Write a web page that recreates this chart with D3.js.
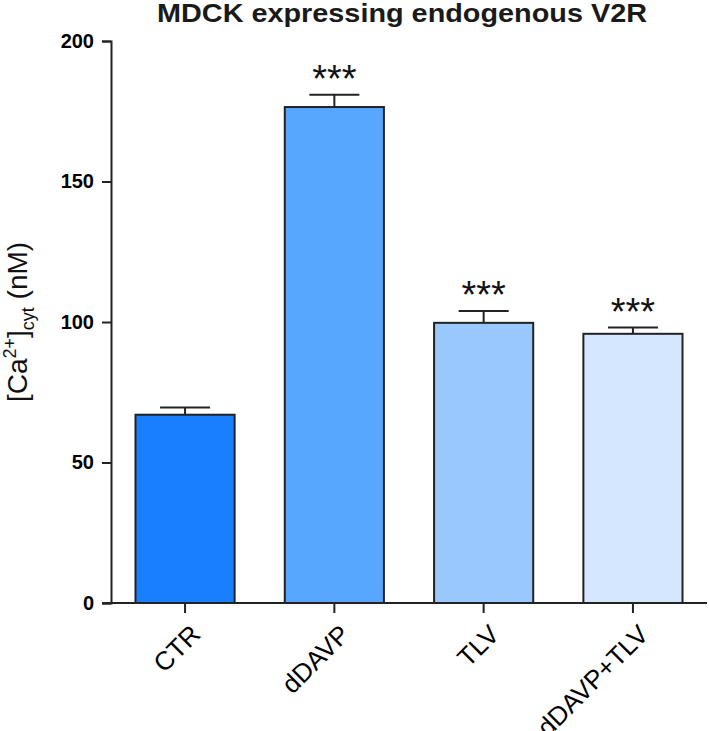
<!DOCTYPE html>
<html lang="en">
<head>
	<meta charset="utf-8">
	<title>MDCK expressing endogenous V2R</title>
	<script src="https://d3js.org/d3.v7.min.js"></script>
	<style>
		body { margin: 0; background: #fff; }
		text { font-family: "Liberation Sans", Arial, Helvetica, sans-serif; }
		.yax .tick text { font-weight: bold; font-size: 20px; fill: #000; }
		.xax .tick text { font-weight: normal; font-size: 26px; fill: #000; }
	</style>
</head>
<body>
	<div id="main"></div>
	<script>
		// data
		var groups = ["CTR", "dDAVP", "TLV", "dDAVP+TLV"];
		var means = [67, 176.5, 99.7, 95.8];
		var sems = [2.6, 4.4, 4.2, 2.2];
		var stars = ["", "***", "***", "***"];
		var barColors = ["#1a7fff", "#57a6ff", "#99c8ff", "#d4e7ff"];
		var yTicks = [0, 50, 100, 150, 200];

		var width = 709, height = 731;

		var svg = d3.select("#main").append("svg")
			.attr("width", width)
			.attr("height", height);

		var x = d3.scaleBand()
			.domain(groups)
			.range([111, 707])
			.paddingInner(0.336)
			.paddingOuter(0.164);

		var y = d3.scaleLinear()
			.domain([0, 200])
			.range([603, 41]);

		// title
		svg.append("text")
			.attr("x", 402)
			.attr("y", 22)
			.attr("text-anchor", "middle")
			.attr("font-weight", "bold")
			.attr("font-size", "25px")
			.attr("fill", "#1a1a1a")
			.attr("textLength", 490)
			.attr("lengthAdjust", "spacingAndGlyphs")
			.text("MDCK expressing endogenous V2R");

		// y axis
		var yAxis = svg.append("g")
			.attr("class", "yax")
			.attr("transform", "translate(111,0)")
			.call(d3.axisLeft(y).tickValues(yTicks).tickSize(9).tickPadding(8));
		yAxis.select(".domain").attr("stroke-width", 2).attr("stroke", "#222");
		yAxis.selectAll(".tick line").attr("stroke-width", 2).attr("stroke", "#222");

		// bars
		svg.append("g")
			.selectAll("rect")
			.data(groups)
			.enter().append("rect")
			.attr("x", function(d) { return x(d); })
			.attr("y", function(d, i) { return y(means[i]); })
			.attr("width", x.bandwidth())
			.attr("height", function(d, i) { return y(0) - y(means[i]); })
			.attr("fill", function(d, i) { return barColors[i]; })
			.attr("stroke", "#222")
			.attr("stroke-width", 2);

		// error bars (upper only)
		var eb = svg.append("g").attr("stroke", "#222").attr("stroke-width", 2);
		groups.forEach(function(g, i) {
			var cx = x(g) + x.bandwidth() / 2;
			eb.append("line")
				.attr("x1", cx).attr("x2", cx)
				.attr("y1", y(means[i])).attr("y2", y(means[i] + sems[i]));
			eb.append("line")
				.attr("x1", cx - 25).attr("x2", cx + 25)
				.attr("y1", y(means[i] + sems[i])).attr("y2", y(means[i] + sems[i]));
		});

		// significance stars
		svg.append("g")
			.selectAll("text")
			.data(groups)
			.enter().append("text")
			.attr("x", function(d) { return x(d) + x.bandwidth() / 2; })
			.attr("y", function(d, i) { return y(means[i] + sems[i]) - 3; })
			.attr("text-anchor", "middle")
			.attr("font-family", "'DejaVu Sans', sans-serif")
			.attr("font-size", "38px")
			.attr("fill", "#111")
			.text(function(d, i) { return stars[i]; });

		// x axis
		var xAxis = svg.append("g")
			.attr("class", "xax")
			.attr("transform", "translate(0,603)")
			.call(d3.axisBottom(x).tickSize(10));
		xAxis.select(".domain").attr("d", "M102,0H707").attr("stroke-width", 2).attr("stroke", "#222");
		xAxis.selectAll(".tick line").attr("stroke-width", 2).attr("stroke", "#222");
		xAxis.selectAll(".tick text")
			.attr("x", 0)
			.attr("y", 0)
			.attr("dy", 0)
			.attr("text-anchor", "end")
			.attr("transform", "translate(17,33) rotate(-45)");

		// y label
		var yl = svg.append("text")
			.attr("transform", "translate(27,322) rotate(-90)")
			.attr("text-anchor", "middle")
			.attr("font-size", "28px")
			.attr("fill", "#111");
		yl.append("tspan").text("[Ca");
		yl.append("tspan").attr("font-size", "18px").attr("dy", "-11").text("2+");
		yl.append("tspan").attr("dy", "11").text("]");
		yl.append("tspan").attr("font-size", "18px").attr("dy", "7").text("cyt");
		yl.append("tspan").attr("dy", "-7").text(" (nM)");
	</script>
</body>
</html>
